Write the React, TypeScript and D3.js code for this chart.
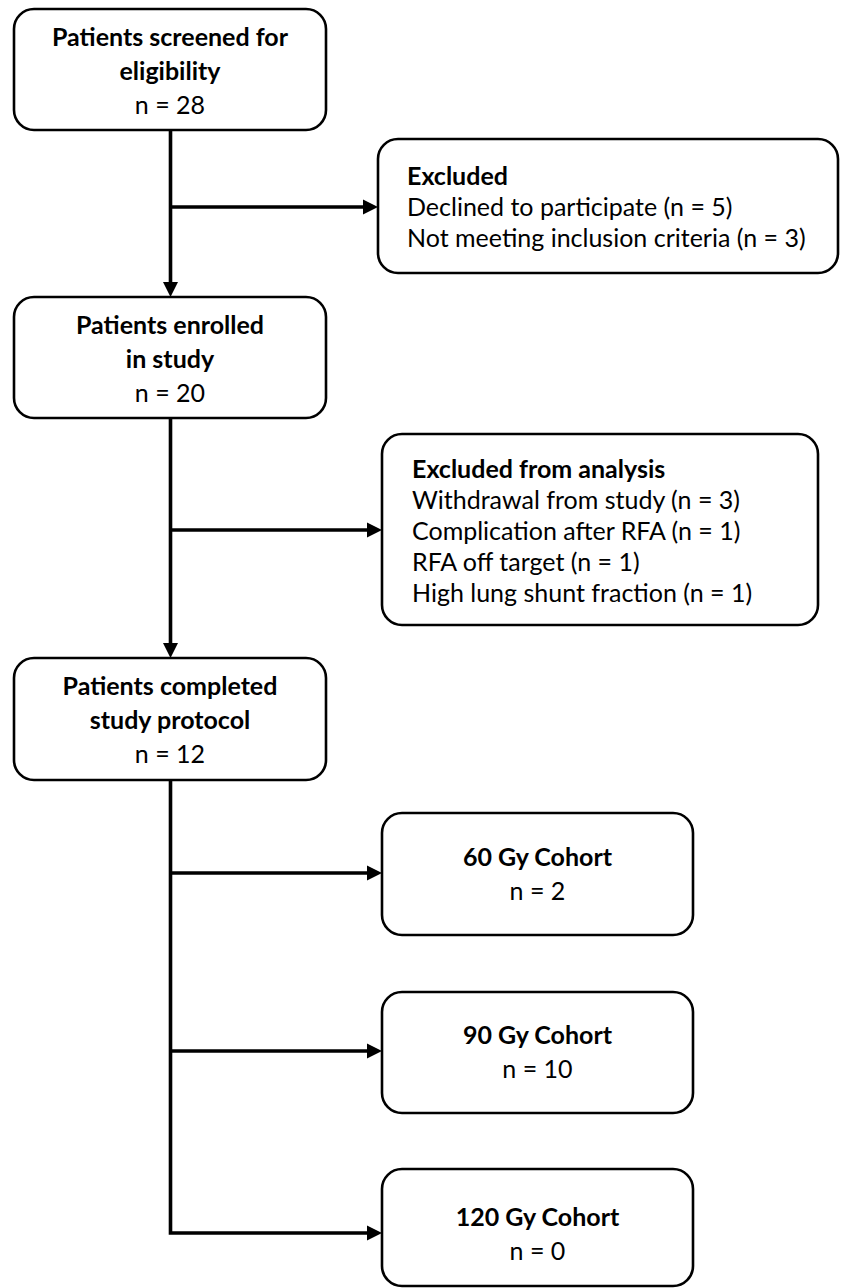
import React from "react";
import * as d3 from "d3";

// ---- data ----
const mainTitles = [
  ["Patients screened for", "eligibility"],
  ["Patients enrolled", "in study"],
  ["Patients completed", "study protocol"],
];
const mainCounts = [28, 20, 12];

const exclusionTitles = ["Excluded", "Excluded from analysis"];
const exclusionReasons = [
  ["Declined to participate", "Not meeting inclusion criteria"],
  ["Withdrawal from study", "Complication after RFA", "RFA off target", "High lung shunt fraction"],
];
const exclusionCounts = [
  [5, 3],
  [3, 1, 1, 1],
];

const cohortLabels = ["60 Gy Cohort", "90 Gy Cohort", "120 Gy Cohort"];
const cohortCounts = [2, 10, 0];

// ---- layout (pixels) ----
const W = 843;
const H = 1288;
const mainX = [14, 326];
const mainY = [
  [9, 130],
  [297, 418],
  [658, 780],
];
const spineX = 170.5;
const exclBoxes = [
  { x0: 378, x1: 838, y0: 139, y1: 273, branchY: 207, textX: 407 },
  { x0: 382, x1: 818, y0: 434, y1: 625, branchY: 530, textX: 412 },
];
const cohortX = [382, 693];
const cohortY = [
  [813, 935],
  [992, 1113],
  [1169, 1286],
];
const cohortArrowY = [873, 1051, 1233];

const FONT = "Lato, 'Open Sans', sans-serif";
const titleSize = 25;
const bodySize = 25;
const mainLineGap = 34;
const exclLineGap = 31;
const radius = 20;
const boxStroke = 2.6;
const lineStroke = 3.6;
const headLen = 15;
const headHalf = 7.5;

function arrowHead(tipX: number, tipY: number, dir: "right" | "down") {
  const p = d3.path();
  if (dir === "right") {
    p.moveTo(tipX, tipY);
    p.lineTo(tipX - headLen, tipY - headHalf);
    p.lineTo(tipX - headLen, tipY + headHalf);
  } else {
    p.moveTo(tipX, tipY);
    p.lineTo(tipX - headHalf, tipY - headLen);
    p.lineTo(tipX + headHalf, tipY - headLen);
  }
  p.closePath();
  return p.toString();
}

function linePath(pts: [number, number][]) {
  return d3.line()(pts) || "";
}

export default function App() {
  const mainCx = (mainX[0] + mainX[1]) / 2;
  const cohortCx = (cohortX[0] + cohortX[1]) / 2;

  return (
    <svg width={W} height={H} style={{ display: "block", position: "absolute", left: 0, top: 0, background: "#fff" }}
      viewBox={`0 0 ${W} ${H}`} fontFamily={FONT}>
      <rect x={0} y={0} width={W} height={H} fill="#fff" />

      {/* spine segments */}
      {mainY.slice(0, 2).map((yy, i) => (
        <g key={"seg" + i}>
          <path d={linePath([[spineX, yy[1]], [spineX, mainY[i + 1][0] - headLen + 1]])} stroke="#000" strokeWidth={lineStroke} fill="none" />
          <path d={arrowHead(spineX, mainY[i + 1][0], "down")} fill="#000" />
          <path d={linePath([[spineX, exclBoxes[i].branchY], [exclBoxes[i].x0 - headLen + 1, exclBoxes[i].branchY]])} stroke="#000" strokeWidth={lineStroke} fill="none" />
          <path d={arrowHead(exclBoxes[i].x0, exclBoxes[i].branchY, "right")} fill="#000" />
        </g>
      ))}

      {/* lower spine to cohorts */}
      <path d={linePath([[spineX, mainY[2][1]], [spineX, cohortArrowY[2]], [cohortX[0] - headLen + 1, cohortArrowY[2]]])}
        stroke="#000" strokeWidth={lineStroke} fill="none" strokeLinejoin="miter" />
      {cohortArrowY.map((ay, i) => (
        <g key={"ca" + i}>
          {i < 2 && (
            <path d={linePath([[spineX, ay], [cohortX[0] - headLen + 1, ay]])} stroke="#000" strokeWidth={lineStroke} fill="none" />
          )}
          <path d={arrowHead(cohortX[0], ay, "right")} fill="#000" />
        </g>
      ))}

      {/* main boxes */}
      {mainY.map((yy, i) => {
        const cy = (yy[0] + yy[1]) / 2;
        const lines = [...mainTitles[i], `n = ${mainCounts[i]}`];
        const start = cy - ((lines.length - 1) / 2) * mainLineGap;
        return (
          <g key={"m" + i}>
            <rect x={mainX[0]} y={yy[0]} width={mainX[1] - mainX[0]} height={yy[1] - yy[0]} rx={radius} ry={radius}
              fill="#fff" stroke="#000" strokeWidth={boxStroke} />
            {lines.map((t, j) => (
              <text key={j} x={mainCx} y={start + j * mainLineGap} textAnchor="middle" dominantBaseline="central"
                fontSize={j < 2 ? titleSize : bodySize} fontWeight={j < 2 ? 700 : 400} fill="#000">{t}</text>
            ))}
          </g>
        );
      })}

      {/* exclusion boxes */}
      {exclBoxes.map((b, i) => {
        const lines = [exclusionTitles[i], ...exclusionReasons[i].map((r, k) => `${r} (n = ${exclusionCounts[i][k]})`)];
        const cy = (b.y0 + b.y1) / 2;
        const start = cy - ((lines.length - 1) / 2) * exclLineGap;
        return (
          <g key={"e" + i}>
            <rect x={b.x0} y={b.y0} width={b.x1 - b.x0} height={b.y1 - b.y0} rx={radius} ry={radius}
              fill="#fff" stroke="#000" strokeWidth={boxStroke} />
            {lines.map((t, j) => (
              <text key={j} x={b.textX} y={start + j * exclLineGap} dominantBaseline="central"
                fontSize={j === 0 ? titleSize : bodySize} fontWeight={j === 0 ? 700 : 400} fill="#000">{t}</text>
            ))}
          </g>
        );
      })}

      {/* cohort boxes */}
      {cohortY.map((yy, i) => {
        const cy = cohortArrowY[i];
        const lines = [cohortLabels[i], `n = ${cohortCounts[i]}`];
        const start = cy - ((lines.length - 1) / 2) * mainLineGap;
        return (
          <g key={"c" + i}>
            <rect x={cohortX[0]} y={yy[0]} width={cohortX[1] - cohortX[0]} height={yy[1] - yy[0]} rx={radius} ry={radius}
              fill="#fff" stroke="#000" strokeWidth={boxStroke} />
            {lines.map((t, j) => (
              <text key={j} x={cohortCx} y={start + j * mainLineGap} textAnchor="middle" dominantBaseline="central"
                fontSize={j === 0 ? titleSize : bodySize} fontWeight={j === 0 ? 700 : 400} fill="#000">{t}</text>
            ))}
          </g>
        );
      })}
    </svg>
  );
}
